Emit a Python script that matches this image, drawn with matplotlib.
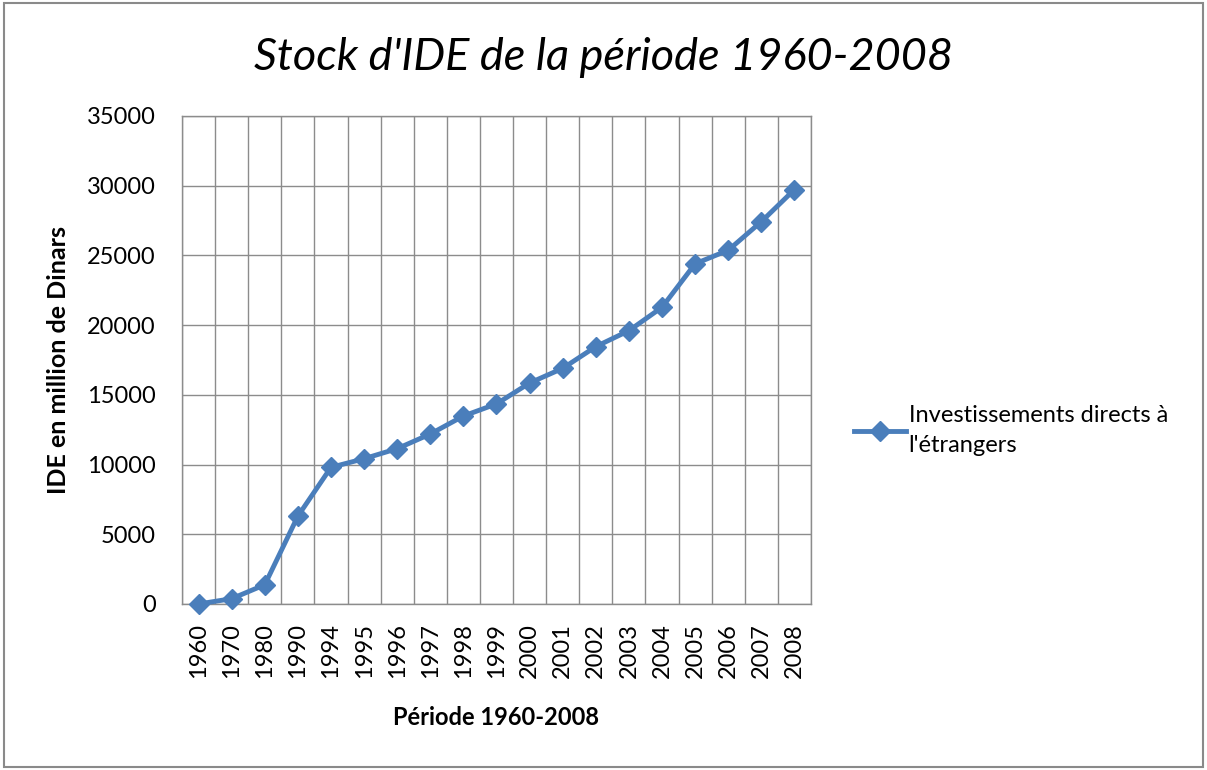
import matplotlib.pyplot as plt
import numpy as np
from matplotlib.patches import Rectangle

plt.rcParams['font.family'] = ['Lato', 'DejaVu Sans']

# values
years = ['1960', '1970', '1980', '1990', '1994', '1995', '1996', '1997', '1998', '1999',
         '2000', '2001', '2002', '2003', '2004', '2005', '2006', '2007', '2008']
ide = [0, 380, 1380, 6300, 9800, 10420, 11140, 12190, 13480, 14350,
       15850, 16900, 18460, 19600, 21280, 24400, 25370, 27420, 29720]

blue = '#4a7ebb'
grid_col = '#8c8c8c'

fig = plt.figure(figsize=(12.07, 7.7), dpi=100)
fig.patches.append(Rectangle((0.003, 0.004), 0.994, 0.992, transform=fig.transFigure,
                             fill=False, edgecolor='#8a8a8a', linewidth=1.5))

ax = fig.add_axes([0.1508, 0.2156, 0.5211, 0.6338])
x = np.arange(len(years))
ax.plot(x, ide, color=blue, linewidth=3.5, marker='D', markersize=10,
        label="Investissements directs à\nl'étrangers", clip_on=False, zorder=3)

ax.set_xlim(-0.5, len(years) - 0.5)
ax.set_ylim(0, 35000)
ax.set_yticks(np.arange(0, 35001, 5000))
ax.set_xticks(x)
ax.set_xticklabels(years, rotation=90, fontsize=17)
ax.tick_params(axis='y', labelsize=17, length=0, pad=19)
ax.tick_params(axis='x', length=0, pad=14)
ax.set_xticks(np.arange(-0.5, len(years), 1), minor=True)
ax.tick_params(axis='x', which='minor', length=0)
ax.grid(True, axis='y', color=grid_col, linewidth=1)
ax.grid(True, axis='x', which='minor', color=grid_col, linewidth=1)
ax.grid(False, axis='x', which='major')
for s in ax.spines.values():
    s.set_color(grid_col)
    s.set_linewidth(1)

ax.set_xlabel('Période 1960-2008', fontsize=17, fontweight='bold', labelpad=20)
ax.set_ylabel('IDE en million de Dinars', fontsize=18, fontweight='bold', labelpad=12)

fig.text(0.5, 0.925, "Stock d'IDE de la période 1960-2008", fontsize=32.5, style='italic',
         ha='center', va='center')

leg = ax.legend(loc='center left', bbox_to_anchor=(1.035, 0.355), frameon=False,
                fontsize=17, handlelength=2.2, handletextpad=0.1, labelspacing=0.3)
for t in leg.get_texts():
    t.set_linespacing(1.5)

fig.savefig('out.png', dpi=100)
